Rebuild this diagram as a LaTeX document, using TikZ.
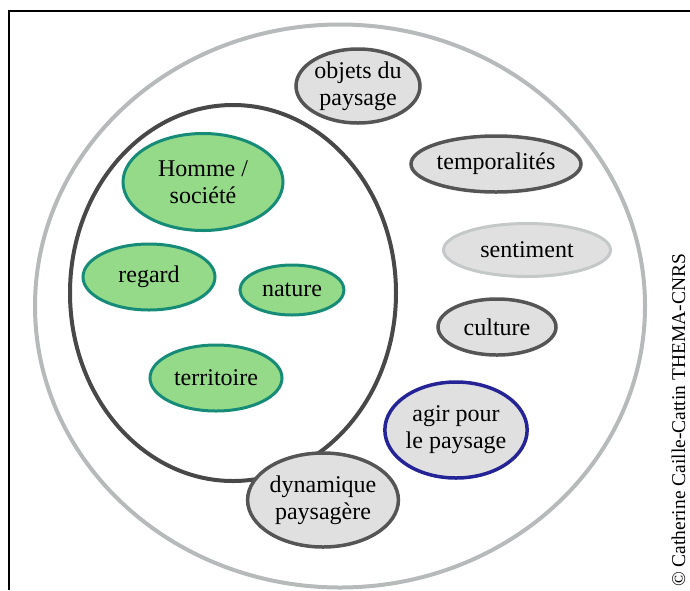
\documentclass[tikz,border=0pt]{standalone}
\usepackage{fontspec}
\setmainfont{Liberation Serif}
\usetikzlibrary{shapes.geometric}
\definecolor{vert}{RGB}{148,218,136}
\definecolor{sarcelle}{RGB}{22,140,120}
\definecolor{grisfond}{RGB}{224,224,224}
\definecolor{grisbord}{RGB}{85,85,85}
\definecolor{grisclair}{RGB}{182,186,186}
\definecolor{marine}{RGB}{36,36,150}

\begin{document}
\begin{tikzpicture}[x=1pt, y=-1pt, font=\fontsize{24}{27}\selectfont,
  bulle/.style={ellipse, draw=grisbord, line width=3.5pt, fill=grisfond, inner sep=0pt, align=center},
  vbulle/.style={bulle, draw=sarcelle, line width=3pt, fill=vert},
  cercle/.style={ellipse, line width=4pt, inner sep=0pt},]
  \useasboundingbox (0,0) rectangle (690,590);
  \draw[line width=1.2pt] (690,11) -- (9,11) -- (9,590);
  % grands cercles
  \node[cercle, draw=grisclair, minimum width=610, minimum height=563] (paysage) at (340,306) {};
  \node[cercle, draw=grisbord!85!black, minimum width=326, minimum height=376] (homme) at (233,293) {};
  % bulles vertes
  \node[vbulle, minimum width=160, minimum height=97] (societe) at (203,182) {Homme /\\société};
  \node[vbulle, minimum width=132, minimum height=66] (regard) at (149,277) {regard};
  \node[vbulle, minimum width=104, minimum height=50] (nature) at (292,290) {nature};
  \node[vbulle, minimum width=132, minimum height=66] (territoire) at (216,378) {territoire};
  % bulles grises
  \node[bulle, minimum width=124, minimum height=74] (objets) at (358,86) {objets du\\paysage};
  \node[bulle, minimum width=170, minimum height=56] (temps) at (496,164) {temporalités};
  \node[bulle, draw=grisclair!80, line width=3pt, minimum width=167, minimum height=53] (sentiment) at (527,250) {sentiment};
  \node[bulle, minimum width=118, minimum height=56] (culture) at (497,327) {culture};
  \node[bulle, draw=marine, minimum width=138, minimum height=96] (agir) at (456,430) {agir pour\\le paysage};
  \node[bulle, minimum width=140, minimum height=94] (dynamique) at (323,500) {dynamique\\paysagère};
  % credit
  \node[rotate=90, anchor=base west, inner sep=0pt, font=\fontsize{19.5}{20}\selectfont] (credit) at (685,587) {© Catherine Caille-Cattin THEMA-CNRS};
\end{tikzpicture}
\end{document}
